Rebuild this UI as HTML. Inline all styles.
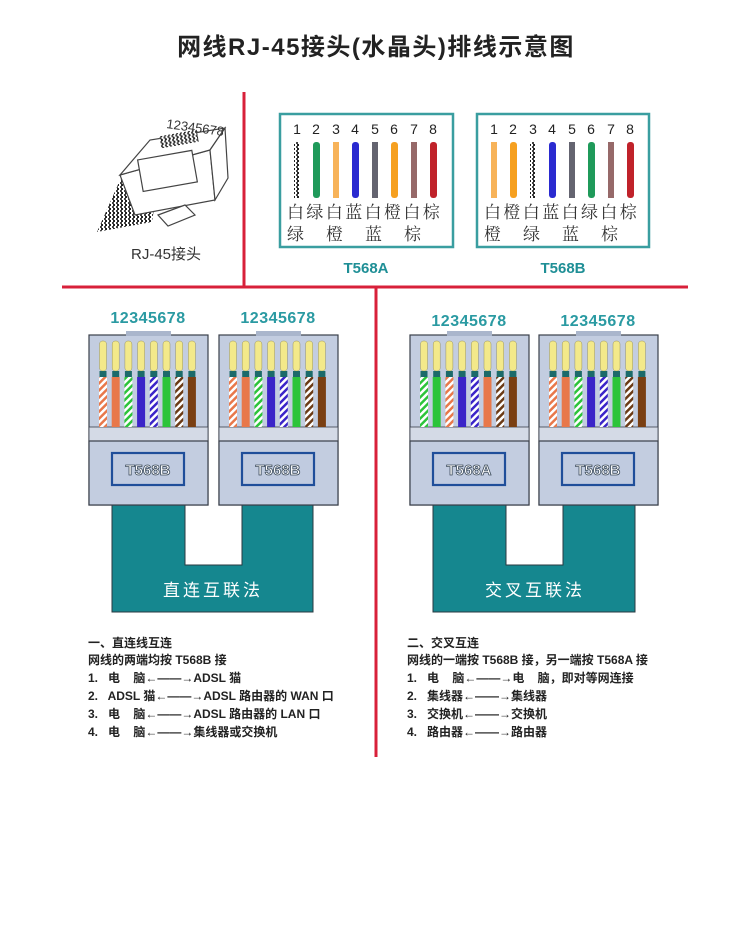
<!DOCTYPE html>
<html><head><meta charset="utf-8"><style>
html,body{margin:0;padding:0;background:#fff;}
body{width:750px;height:925px;overflow:hidden;}
svg text{font-family:"Liberation Sans","Noto Sans CJK SC",sans-serif;white-space:pre;}
</style></head><body>
<svg width="750" height="925" viewBox="0 0 750 925" xmlns="http://www.w3.org/2000/svg">
<defs>
<pattern id="wo" width="5" height="5" patternUnits="userSpaceOnUse" patternTransform="rotate(45)"><rect width="5" height="5" fill="#fff"/><rect width="2.5" height="5" fill="#e8784a"/></pattern>
<pattern id="wg" width="5" height="5" patternUnits="userSpaceOnUse" patternTransform="rotate(45)"><rect width="5" height="5" fill="#fff"/><rect width="2.5" height="5" fill="#2cc43a"/></pattern>
<pattern id="wb" width="5" height="5" patternUnits="userSpaceOnUse" patternTransform="rotate(45)"><rect width="5" height="5" fill="#fff"/><rect width="2.5" height="5" fill="#3a24c8"/></pattern>
<pattern id="wn" width="5" height="5" patternUnits="userSpaceOnUse" patternTransform="rotate(45)"><rect width="5" height="5" fill="#fff"/><rect width="2.5" height="5" fill="#6b3a16"/></pattern>
<pattern id="dots" width="4" height="4" patternUnits="userSpaceOnUse"><rect width="4" height="4" fill="#fff"/><rect x="1" y="0" width="2" height="2" fill="#222"/><rect x="0" y="2" width="2" height="2" fill="#444"/></pattern>
<g id="body">
  <rect x="0" y="0" width="119" height="170" fill="#c3cde0" stroke="#3a3f4a" stroke-width="1.2"/>
  <rect x="37" y="-4" width="45" height="5" fill="#aab6cc"/>
  <rect x="0" y="92" width="119" height="14" fill="#d4dae6" stroke="#3a3f4a" stroke-width="0.8"/>
  <rect x="0" y="106" width="119" height="64" fill="#c3cde0" stroke="#3a3f4a" stroke-width="1.2"/>
  <g fill="#f3e98a" stroke="#9a9460" stroke-width="0.5">
    <rect x="10.5" y="6" width="7" height="30" rx="3"/><rect x="23.2" y="6" width="7" height="30" rx="3"/>
    <rect x="35.9" y="6" width="7" height="30" rx="3"/><rect x="48.6" y="6" width="7" height="30" rx="3"/>
    <rect x="61.3" y="6" width="7" height="30" rx="3"/><rect x="74" y="6" width="7" height="30" rx="3"/>
    <rect x="86.7" y="6" width="7" height="30" rx="3"/><rect x="99.4" y="6" width="7" height="30" rx="3"/>
  </g>
  <g fill="#1c6a6a">
    <rect x="10.5" y="36" width="7" height="6"/><rect x="23.2" y="36" width="7" height="6"/>
    <rect x="35.9" y="36" width="7" height="6"/><rect x="48.6" y="36" width="7" height="6"/>
    <rect x="61.3" y="36" width="7" height="6"/><rect x="74" y="36" width="7" height="6"/>
    <rect x="86.7" y="36" width="7" height="6"/><rect x="99.4" y="36" width="7" height="6"/>
  </g>
  <rect x="23" y="118" width="72" height="32" fill="#c0cbe0" stroke="#1f4e9a" stroke-width="2.2"/>
</g>
<g id="wB">
  <rect x="10" y="42" width="8" height="50" fill="url(#wo)"/><rect x="22.7" y="42" width="8" height="50" fill="#e8784a"/>
  <rect x="35.4" y="42" width="8" height="50" fill="url(#wg)"/><rect x="48.1" y="42" width="8" height="50" fill="#3a24c8"/>
  <rect x="60.8" y="42" width="8" height="50" fill="url(#wb)"/><rect x="73.5" y="42" width="8" height="50" fill="#2cc43a"/>
  <rect x="86.2" y="42" width="8" height="50" fill="url(#wn)"/><rect x="98.9" y="42" width="8" height="50" fill="#7a3f12"/>
</g>
<g id="wA">
  <rect x="10" y="42" width="8" height="50" fill="url(#wg)"/><rect x="22.7" y="42" width="8" height="50" fill="#2cc43a"/>
  <rect x="35.4" y="42" width="8" height="50" fill="url(#wo)"/><rect x="48.1" y="42" width="8" height="50" fill="#3a24c8"/>
  <rect x="60.8" y="42" width="8" height="50" fill="url(#wb)"/><rect x="73.5" y="42" width="8" height="50" fill="#e8784a"/>
  <rect x="86.2" y="42" width="8" height="50" fill="url(#wn)"/><rect x="98.9" y="42" width="8" height="50" fill="#7a3f12"/>
</g>
</defs>

<text x="376" y="55" font-size="24" text-anchor="middle" fill="#222" font-weight="bold" letter-spacing="1.5">网线RJ-45接头(水晶头)排线示意图</text>

<line x1="244" y1="92" x2="244" y2="287" stroke="#d8203a" stroke-width="3"/>
<line x1="62" y1="287" x2="688" y2="287" stroke="#d8203a" stroke-width="3"/>
<line x1="376" y1="287" x2="376" y2="757" stroke="#d8203a" stroke-width="3"/>

<!-- RJ45 icon -->
<g stroke="#444" stroke-width="1.2" fill="#fff">
  <polygon points="97,232 120,180 160,170 152,222" fill="url(#dots)" stroke="none"/>
  <polygon points="120,175 210,150 215,200 135,215" />
  <polygon points="120,175 150,140 225,128 210,150"/>
  <polygon points="210,150 225,128 228,178 215,200"/>
  <rect x="140" y="155" width="55" height="32" transform="rotate(-10 167 171)"/>
  <polygon points="158,215 185,205 195,215 168,226"/>
</g>
<rect x="160" y="133" width="38" height="12" fill="url(#dots)" transform="rotate(-10 179 139)"/>
<text x="166" y="128" font-size="13" fill="#333" transform="rotate(8 166 128)">12345678</text>
<text x="131" y="259" font-size="15" fill="#333">RJ-45接头</text>

<g font-size="14" fill="#222" text-anchor="middle">
<rect x="280" y="114" width="173" height="133" fill="none" stroke="#3a9ea0" stroke-width="2.5"/>
<rect x="477" y="114" width="172" height="133" fill="none" stroke="#3a9ea0" stroke-width="2.5"/>
<text x="297" y="134">1</text><text x="316" y="134">2</text><text x="336" y="134">3</text><text x="355" y="134">4</text><text x="375" y="134">5</text><text x="394" y="134">6</text><text x="414" y="134">7</text><text x="433" y="134">8</text>
<text x="494" y="134">1</text><text x="513" y="134">2</text><text x="533" y="134">3</text><text x="552" y="134">4</text><text x="572" y="134">5</text><text x="591" y="134">6</text><text x="611" y="134">7</text><text x="630" y="134">8</text>
</g>
<g>
<rect x="294" y="142" width="6" height="56" fill="url(#dots)"/>
<rect x="313" y="142" width="7" height="56" rx="3" fill="#1f9a5a"/>
<rect x="333" y="142" width="6" height="56" fill="#f5a030" opacity="0.8"/>
<rect x="352" y="142" width="7" height="56" rx="3" fill="#2a2ad0"/>
<rect x="372" y="142" width="6" height="56" fill="#223" opacity="0.7"/>
<rect x="391" y="142" width="7" height="56" rx="3" fill="#f6a020"/>
<rect x="411" y="142" width="6" height="56" fill="#6a2a2a" opacity="0.7"/>
<rect x="430" y="142" width="7" height="56" rx="3" fill="#c0222a"/>
<rect x="491" y="142" width="6" height="56" fill="#f5a030" opacity="0.8"/>
<rect x="510" y="142" width="7" height="56" rx="3" fill="#f6a020"/>
<rect x="530" y="142" width="6" height="56" fill="url(#dots)"/>
<rect x="549" y="142" width="7" height="56" rx="3" fill="#2a2ad0"/>
<rect x="569" y="142" width="6" height="56" fill="#223" opacity="0.7"/>
<rect x="588" y="142" width="7" height="56" rx="3" fill="#1f9a5a"/>
<rect x="608" y="142" width="6" height="56" fill="#6a2a2a" opacity="0.7"/>
<rect x="627" y="142" width="7" height="56" rx="3" fill="#c0222a"/>
</g>
<g font-size="17" fill="#333">
<text x="287" y="218" letter-spacing="2.4" style="font-family:'Noto Serif CJK SC',serif">白绿白蓝白橙白棕</text>
<text x="287" y="240" style="font-family:'Noto Serif CJK SC',serif">绿</text><text x="326" y="240" style="font-family:'Noto Serif CJK SC',serif">橙</text><text x="365" y="240" style="font-family:'Noto Serif CJK SC',serif">蓝</text><text x="404" y="240" style="font-family:'Noto Serif CJK SC',serif">棕</text>
<text x="484" y="218" letter-spacing="2.4" style="font-family:'Noto Serif CJK SC',serif">白橙白蓝白绿白棕</text>
<text x="484" y="240" style="font-family:'Noto Serif CJK SC',serif">橙</text><text x="523" y="240" style="font-family:'Noto Serif CJK SC',serif">绿</text><text x="562" y="240" style="font-family:'Noto Serif CJK SC',serif">蓝</text><text x="601" y="240" style="font-family:'Noto Serif CJK SC',serif">棕</text>
</g>
<text x="366" y="273" font-size="15" font-weight="bold" fill="#1f8f96" text-anchor="middle">T568A</text>
<text x="563" y="273" font-size="15" font-weight="bold" fill="#1f8f96" text-anchor="middle">T568B</text>

<path d="M112,505 H185 V565 H242 V505 H313 V612 H112 Z" fill="#15878f" stroke="#2a3a40" stroke-width="1"/>
<path d="M433,505 H506 V565 H563 V505 H635 V612 H433 Z" fill="#15878f" stroke="#2a3a40" stroke-width="1"/>
<text x="213" y="596" font-size="17" fill="#fff" text-anchor="middle" letter-spacing="3">直连互联法</text>
<text x="535" y="596" font-size="17" fill="#fff" text-anchor="middle" letter-spacing="3">交叉互联法</text>

<g transform="translate(89,335)"><use href="#body"/><use href="#wB"/></g>
<g transform="translate(219,335)"><use href="#body"/><use href="#wB"/></g>
<g transform="translate(410,335)"><use href="#body"/><use href="#wA"/></g>
<g transform="translate(539,335)"><use href="#body"/><use href="#wB"/></g>

<g font-size="15" font-weight="bold" text-anchor="middle" fill="#fff" stroke="#3a4a5a" stroke-width="0.8">
<text x="148" y="475">T568B</text><text x="278" y="475">T568B</text>
<text x="469" y="475">T568A</text><text x="598" y="475">T568B</text>
</g>

<g font-size="16" font-weight="bold" fill="#2a9aa2" text-anchor="middle" letter-spacing="0.5">
<text x="148" y="323">12345678</text><text x="278" y="323">12345678</text>
<text x="469" y="326">12345678</text><text x="598" y="326">12345678</text>
</g>

<g font-size="12" fill="#222" font-weight="bold">
<text x="88" y="647">一、直连线互连</text>
<text x="88" y="664">网线的两端均按 T568B 接</text>
<text x="88" y="682">1.   电    脑←——→ADSL 猫</text>
<text x="88" y="700">2.   ADSL 猫←——→ADSL 路由器的 WAN 口</text>
<text x="88" y="718">3.   电    脑←——→ADSL 路由器的 LAN 口</text>
<text x="88" y="736">4.   电    脑←——→集线器或交换机</text>
<text x="407" y="647">二、交叉互连</text>
<text x="407" y="664">网线的一端按 T568B 接，另一端按 T568A 接</text>
<text x="407" y="682">1.   电    脑←——→电    脑，即对等网连接</text>
<text x="407" y="700">2.   集线器←——→集线器</text>
<text x="407" y="718">3.   交换机←——→交换机</text>
<text x="407" y="736">4.   路由器←——→路由器</text>
</g>
</svg>
</body></html>
